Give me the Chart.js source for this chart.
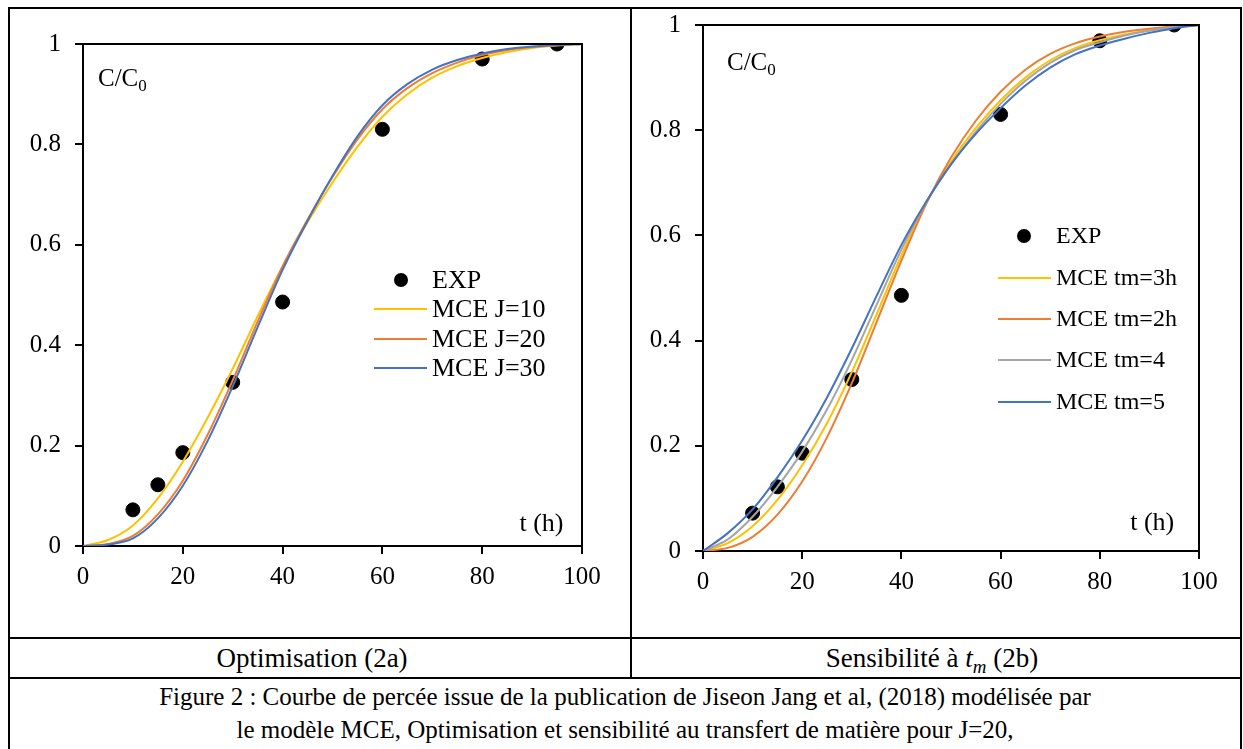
<!DOCTYPE html>
<html><head><meta charset="utf-8">
<script src="https://cdn.jsdelivr.net/npm/chart.js@4.4.1/dist/chart.umd.min.js"></script>
<style>
html,body{margin:0;padding:0;background:#fff;}
body{width:1243px;height:749px;overflow:hidden;position:relative;font-family:"Liberation Serif","Times New Roman",serif;color:#000;}
.ln{position:absolute;background:#000;}
.cv{position:absolute;}
.cap{position:absolute;text-align:center;font-size:25px;white-space:nowrap;}
sub{font-size:70%;}
</style></head><body>
<div class="ln" style="left:8px;top:7px;width:1234px;height:2px"></div>
<div class="ln" style="left:8px;top:7px;width:2px;height:742px"></div>
<div class="ln" style="left:1240px;top:7px;width:2px;height:742px"></div>
<div class="ln" style="left:630px;top:7px;width:2px;height:670px"></div>
<div class="ln" style="left:8px;top:637px;width:1234px;height:2px"></div>
<div class="ln" style="left:8px;top:677px;width:1234px;height:2px"></div>
<canvas id="c1" class="cv" width="619" height="627" style="left:10px;top:9px;width:619px;height:627px"></canvas>
<canvas id="c2" class="cv" width="607" height="627" style="left:632px;top:9px;width:607px;height:627px"></canvas>
<div class="cap" style="left:10px;top:639px;width:604px;height:38px;line-height:38px;font-size:27px">Optimisation (2a)</div>
<div class="cap" style="left:632px;top:639px;width:600px;height:38px;line-height:38px;font-size:27px">Sensibilité à <i>t<sub>m</sub></i> (2b)</div>
<div class="cap" style="left:10px;top:680px;width:1230px;line-height:33px">Figure 2 : Courbe de percée issue de la publication de Jiseon Jang et al, (2018) modélisée par<br>le modèle MCE, Optimisation et sensibilité au transfert de matière pour J=20,</div>
<script>
// ---- data ----
const tHours = [0,5,10,15,20,25,30,35,40,45,50,55,60,65,70,75,80,85,90,95,100];
const expT = [10,15,20,30,40,60,80,95];
const expC = [0.072,0.122,0.186,0.326,0.486,0.830,0.970,1.0];
const mceJ10 = [0,0.012,0.041,0.095,0.168,0.256,0.353,0.458,0.557,0.645,0.724,0.795,0.855,0.900,0.933,0.956,0.972,0.984,0.992,0.997,1];
const mceJ20 = [0,0.004,0.020,0.063,0.130,0.222,0.330,0.447,0.557,0.650,0.735,0.810,0.870,0.912,0.942,0.963,0.978,0.988,0.994,0.998,1];
const mceJ30 = [0,0.003,0.015,0.055,0.120,0.210,0.318,0.436,0.550,0.648,0.737,0.816,0.878,0.920,0.949,0.968,0.981,0.990,0.995,0.998,1];
const mceTm3 = [0,0.015,0.047,0.097,0.163,0.243,0.340,0.450,0.562,0.661,0.740,0.804,0.857,0.900,0.933,0.956,0.971,0.982,0.990,0.996,1];
const mceTm2 = [0,0.006,0.027,0.069,0.132,0.216,0.319,0.435,0.552,0.660,0.748,0.818,0.873,0.915,0.945,0.965,0.978,0.987,0.993,0.997,1];
const mceTm4 = [0,0.022,0.065,0.122,0.189,0.269,0.363,0.468,0.573,0.663,0.735,0.797,0.850,0.894,0.928,0.952,0.967,0.980,0.989,0.996,1];
const mceTm5 = [0,0.034,0.079,0.140,0.210,0.292,0.385,0.485,0.582,0.664,0.735,0.793,0.842,0.885,0.919,0.944,0.961,0.974,0.985,0.994,1];
const xTicks = [0,20,40,60,80,100];
const yTicks = [0,0.2,0.4,0.6,0.8,1];
const labelsLeft = ['EXP','MCE J=10','MCE J=20','MCE J=30'];
const labelsRight = ['EXP','MCE tm=3h','MCE tm=2h','MCE tm=4','MCE tm=5'];

const COL = {yellow:'#FFC000', orange:'#ED7D31', gray:'#A5A5A5', blue:'#4472C4'};
const FONT = '"Liberation Serif","Times New Roman",serif';

function pts(xs, ys){ return xs.map((x,i)=>({x:x, y:ys[i]})); }
function expSet(label){
  return {label:label, data:pts(expT,expC), showLine:false, pointRadius:7, pointHoverRadius:7,
          pointBackgroundColor:'#000', pointBorderColor:'#000', borderColor:'#000', backgroundColor:'#000', order:10};
}
function lineSet(label, ys, color, order){
  return {label:label, data:pts(tHours,ys), showLine:true, borderColor:color, backgroundColor:color, borderWidth:2,
          pointRadius:0, pointHoverRadius:0, cubicInterpolationMode:'monotone', fill:false, order:order};
}

const overlay = {
  id:'overlay',
  afterDatasetsDraw(chart, args, o){
    const ctx = chart.ctx, a = chart.chartArea;
    ctx.save();
    ctx.strokeStyle = '#000'; ctx.lineWidth = 2;
    ctx.beginPath();
    ctx.moveTo(a.left-1, a.top); ctx.lineTo(a.right, a.top); ctx.lineTo(a.right, a.bottom);
    ctx.stroke();
    ctx.fillStyle = '#000';
    ctx.textBaseline = 'alphabetic'; ctx.textAlign = 'left';
    ctx.font = o.ySize + 'px ' + FONT;
    const x0 = a.left + o.yLab[0], y0 = a.top + o.yLab[1];
    ctx.fillText('C/C', x0, y0);
    const w = ctx.measureText('C/C').width;
    ctx.font = Math.round(o.ySize*0.68) + 'px ' + FONT;
    ctx.fillText('0', x0 + w, y0 + 5);
    ctx.font = o.xSize + 'px ' + FONT; ctx.textAlign = 'right';
    ctx.fillText('t (h)', a.right + o.xLab[0], a.bottom + o.xLab[1]);
    const L = o.legend;
    ctx.font = L.size + 'px ' + FONT; ctx.textAlign = 'left'; ctx.textBaseline = 'middle';
    chart.data.datasets.forEach((ds, i) => {
      const y = a.top + L.rows[i];
      if (ds.showLine === false) {
        ctx.beginPath(); ctx.arc(a.left + L.dotX, y, 7, 0, Math.PI*2); ctx.fillStyle = '#000'; ctx.fill();
      } else {
        ctx.strokeStyle = ds.borderColor; ctx.lineWidth = 2;
        ctx.beginPath(); ctx.moveTo(a.left + L.x0, y); ctx.lineTo(a.left + L.x1, y); ctx.stroke();
      }
      ctx.fillStyle = '#000';
      ctx.fillText(ds.label, a.left + L.tx, y + 1);
    });
    ctx.restore();
  }
};

function makeOptions(yW, xH, pad, ov){
  const tickFont = {family:FONT, size:25};
  return {
    responsive:false, animation:false, devicePixelRatio:1,
    layout:{padding:pad, autoPadding:false},
    plugins:{legend:{display:false}, tooltip:{enabled:false}, overlay:ov},
    scales:{
      x:{type:'linear', min:0, max:100,
         afterFit(s){ s.height = xH; s.paddingLeft = 0; s.paddingRight = 0; },
         afterBuildTicks(s){ s.ticks = xTicks.map(v=>({value:v})); },
         grid:{drawOnChartArea:false, drawTicks:true, tickLength:8, color:'#000', lineWidth:2},
         border:{display:true, color:'#000', width:2},
         ticks:{color:'#000', font:tickFont, padding:8, maxRotation:0, autoSkip:false}},
      y:{type:'linear', min:0, max:1,
         afterFit(s){ s.width = yW; s.paddingTop = 0; s.paddingBottom = 0; },
         afterBuildTicks(s){ s.ticks = yTicks.map(v=>({value:v})); },
         grid:{drawOnChartArea:false, drawTicks:true, tickLength:8, color:'#000', lineWidth:2},
         border:{display:true, color:'#000', width:2},
         ticks:{color:'#000', font:tickFont, padding:14, autoSkip:false,
                callback:(v)=>String(Math.round(v*10)/10)}}
    }
  };
}

new Chart(document.getElementById('c1'), {
  type:'scatter',
  data:{datasets:[
    expSet(labelsLeft[0]),
    lineSet(labelsLeft[1], mceJ10, COL.yellow, 3),
    lineSet(labelsLeft[2], mceJ20, COL.orange, 2),
    lineSet(labelsLeft[3], mceJ30, COL.blue, 1)
  ]},
  options: makeOptions(73, 90, {left:0, right:47, top:35, bottom:0},
    {ySize:25, yLab:[15,42], xSize:26, xLab:[-18.5,-15.5],
     legend:{size:26, dotX:318, x0:291, x1:344, tx:349, rows:[236,265,295,324]}}),
  plugins:[overlay]
});

new Chart(document.getElementById('c2'), {
  type:'scatter',
  data:{datasets:[
    expSet(labelsRight[0]),
    lineSet(labelsRight[1], mceTm3, COL.yellow, 4),
    lineSet(labelsRight[2], mceTm2, COL.orange, 3),
    lineSet(labelsRight[3], mceTm4, COL.gray, 2),
    lineSet(labelsRight[4], mceTm5, COL.blue, 1)
  ]},
  options: makeOptions(71, 85, {left:0, right:40, top:16, bottom:0},
    {ySize:25, yLab:[24,44.5], xSize:26, xLab:[-24.8,-21],
     legend:{size:24, dotX:321, x0:295, x1:348, tx:353, rows:[211,253,294,335,377]}}),
  plugins:[overlay]
});
</script>
</body></html>
